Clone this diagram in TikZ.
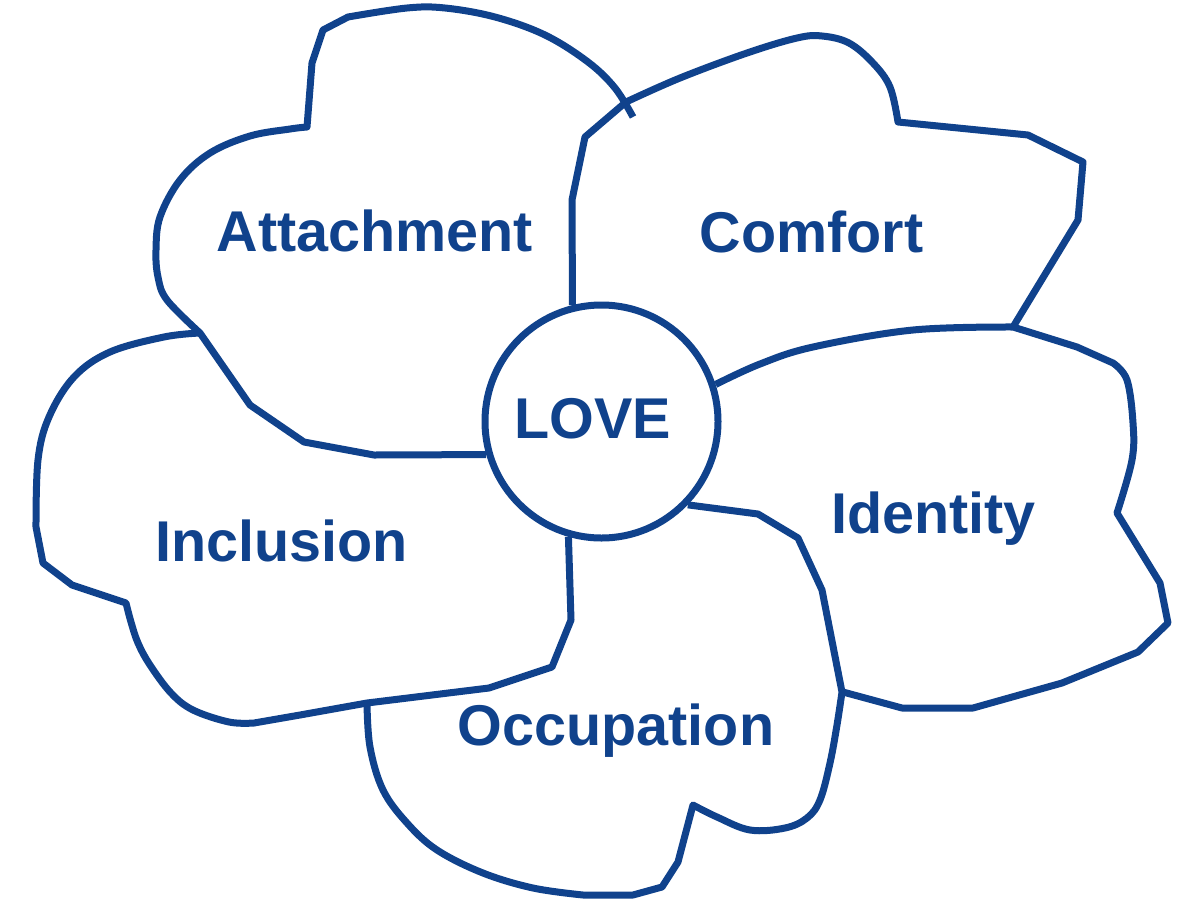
\documentclass[tikz,border=0pt]{standalone}
\usepackage{fontspec}
\setmainfont{Liberation Sans}
\definecolor{petal}{RGB}{16,66,140}
\begin{document}
\begin{tikzpicture}[x=1pt,y=-1pt,line width=7pt,line join=round,
  edge/.style={draw=petal},
  lbl/.style={text=petal,font=\fontsize{57.5}{60}\selectfont\bfseries,anchor=base,inner sep=0pt}]
\useasboundingbox (0,0) rectangle (1197,911);
\node[draw=petal,circle,minimum size=233pt,inner sep=0pt] (love) at (601.5,421.5) {};
% Comfort
\draw[edge] (love.104.7) -- (572,200) -- (585,137) -- (626,102)
  -- plot[smooth,tension=0.6] coordinates {(626,102) (680,78) (747,53) (797,38) (822,36) (849,43) (873,63) (890,87) (898,122)}
  -- (1028,135) -- (1083,162) -- (1078,220) -- (1013,327);
% Identity
\draw[edge] plot[smooth,tension=0.6] coordinates {(love.18.7) (760,364) (813,347) (913,330) (1013,327)}
  -- (1077,347) -- (1113,363)
  -- plot[smooth,tension=0.6] coordinates {(1113,363) (1127,380) (1133,423) (1132,460) (1117,513)}
  -- (1160,583) -- (1168,623) -- (1138,652) -- (1062,683) -- (973,708) -- (902,708) -- (843,692);
% Occupation
\draw[edge] (love.-44.3) -- (758,514) -- (798,538) -- (822,590) -- (842,692)
  -- plot[smooth,tension=0.6] coordinates {(842,692) (837,725) (830,763) (820,800) (807,818) (785,828) (750,830) (717,817) (693,805)}
  -- (678,862) -- (662,887) -- (633,895) -- (583,895)
  -- plot[smooth,tension=0.6] coordinates {(583,895) (533,888) (483,873) (437,850) (407,823) (383,790) (370,747) (367,703)};
% Inclusion
\draw[edge] (love.254.8) -- (571,620) -- (552,667) -- (489,688) -- (367,703) -- (300,715) -- (254,723)
  -- plot[smooth,tension=0.6] coordinates {(254,723) (229,722) (193,710) (171,693) (150,665) (138,643) (131,622) (126,603)}
  -- (72,585) -- (43,563) -- (36,527)
  -- plot[smooth,tension=0.6] coordinates {(36,527) (38,460) (49,417) (74,377) (110,352) (164,337) (200,333)};
% Attachment
\draw[edge] (love.196.2) -- (374,455) -- (304,442) -- (250,405) -- (200,333)
  -- plot[smooth,tension=0.6] coordinates {(200,333) (167,300) (158,277) (156,250) (160,217) (180,180) (210,153) (250,136) (290,129) (307,127)}
  -- (312,63) -- (323,30) -- (348,17)
  -- plot[smooth,tension=0.6] coordinates {(348,17) (407,8) (445,8) (495,17) (545,35) (588,62) (615,88) (633,117)};
% Labels
\node[lbl] (tlove) at (592.5,438) {LOVE};
\node[lbl] (tatt) at (375,251) {Attachment};
\node[lbl] (tcom) at (811.5,252) {Comfort};
\node[lbl] (tide) at (933.5,533) {Identity};
\node[lbl] (tinc) at (281.5,561) {Inclusion};
\node[lbl] (tocc) at (616,745) {Occupation};
\end{tikzpicture}
\end{document}
